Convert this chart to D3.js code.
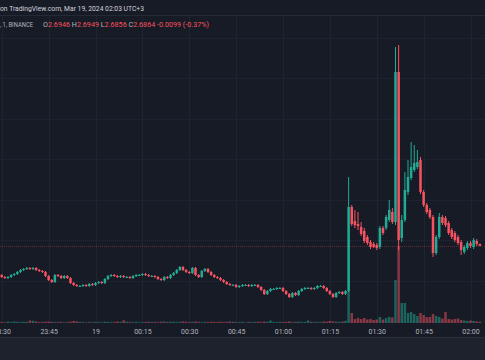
<!DOCTYPE html>
<html><head><meta charset="utf-8">
<script src="https://cdn.jsdelivr.net/npm/d3@7"></script>
<style>html,body{margin:0;padding:0;background:#171b26;overflow:hidden}svg{display:block}</style>
</head><body><svg id="c" width="485" height="360"></svg>
<script>
// ---- data (1-minute candles, first candle 23:29, Mar 18 2024) ----
const startTime = new Date(2024, 2, 18, 23, 29);
const opens = [
2.574,2.570,2.562,2.558,2.562,2.570,2.574,2.582,2.590,2.594,
2.598,2.594,2.598,2.590,2.586,2.582,2.566,2.550,2.542,2.570,
2.566,2.558,2.566,2.558,2.538,2.530,2.526,2.526,2.530,2.526,
2.534,2.530,2.538,2.542,2.538,2.554,2.566,2.570,2.566,2.562,
2.566,2.562,2.562,2.558,2.566,2.570,2.570,2.574,2.570,2.566,
2.566,2.562,2.554,2.550,2.562,2.558,2.570,2.578,2.590,2.602,
2.590,2.582,2.578,2.598,2.570,2.562,2.586,2.594,2.582,2.570,
2.562,2.558,2.550,2.542,2.534,2.530,2.530,2.522,2.526,2.530,
2.530,2.526,2.530,2.530,2.522,2.510,2.494,2.506,2.514,2.514,
2.518,2.518,2.506,2.494,2.482,2.498,2.490,2.506,2.514,2.518,
2.518,2.514,2.518,2.526,2.526,2.518,2.506,2.494,2.482,2.498,
2.502,2.494,2.506,2.842,2.786,2.774,2.762,2.746,2.722,2.702,
2.694,2.690,2.682,2.758,2.758,2.790,2.822,2.782,3.382,2.718,
2.790,2.902,2.958,2.990,3.002,3.030,2.902,2.850,2.830,2.802,
2.658,2.722,2.802,2.798,2.778,2.750,2.738,2.722,2.702,2.662,
2.678,2.698,2.682,2.706,2.6946];
const highs = [
2.578,2.574,2.566,2.566,2.574,2.578,2.586,2.594,2.598,2.602,
2.602,2.602,2.602,2.594,2.590,2.586,2.570,2.554,2.574,2.574,
2.570,2.570,2.570,2.562,2.542,2.534,2.530,2.534,2.534,2.538,
2.538,2.542,2.546,2.546,2.558,2.570,2.574,2.574,2.570,2.570,
2.570,2.566,2.566,2.570,2.574,2.574,2.578,2.578,2.574,2.570,
2.570,2.566,2.558,2.566,2.566,2.574,2.582,2.594,2.606,2.606,
2.594,2.586,2.602,2.602,2.574,2.590,2.598,2.598,2.586,2.574,
2.566,2.562,2.554,2.546,2.538,2.534,2.534,2.530,2.534,2.534,
2.534,2.534,2.534,2.534,2.526,2.514,2.510,2.518,2.518,2.522,
2.522,2.522,2.510,2.498,2.502,2.502,2.510,2.518,2.522,2.522,
2.522,2.522,2.530,2.530,2.530,2.522,2.510,2.498,2.502,2.506,
2.506,2.510,2.962,2.850,2.830,2.822,2.782,2.758,2.730,2.710,
2.702,2.698,2.766,2.766,2.810,2.870,2.838,3.482,3.490,2.810,
2.982,3.030,3.102,3.090,3.070,3.042,2.910,2.858,2.838,2.810,
2.730,2.818,2.810,2.806,2.786,2.758,2.746,2.730,2.710,2.690,
2.706,2.706,2.718,2.714,2.6949];
const lows = [
2.566,2.558,2.554,2.554,2.558,2.566,2.570,2.578,2.586,2.590,
2.590,2.590,2.586,2.582,2.578,2.562,2.546,2.538,2.538,2.562,
2.554,2.554,2.554,2.534,2.526,2.522,2.522,2.522,2.522,2.522,
2.526,2.526,2.534,2.534,2.534,2.550,2.562,2.562,2.558,2.558,
2.558,2.558,2.554,2.554,2.562,2.566,2.566,2.566,2.562,2.562,
2.558,2.550,2.546,2.546,2.554,2.554,2.566,2.574,2.586,2.586,
2.578,2.574,2.574,2.566,2.558,2.558,2.582,2.578,2.566,2.558,
2.554,2.546,2.538,2.530,2.526,2.526,2.518,2.518,2.522,2.526,
2.522,2.522,2.526,2.518,2.506,2.490,2.490,2.502,2.510,2.510,
2.514,2.502,2.490,2.478,2.478,2.486,2.486,2.502,2.510,2.514,
2.510,2.510,2.514,2.522,2.514,2.502,2.490,2.478,2.478,2.494,
2.490,2.490,2.502,2.766,2.758,2.750,2.726,2.698,2.690,2.674,
2.678,2.670,2.674,2.730,2.750,2.782,2.774,2.770,2.670,2.702,
2.782,2.890,2.950,2.982,2.994,2.894,2.842,2.814,2.794,2.642,
2.650,2.714,2.770,2.762,2.730,2.714,2.702,2.690,2.650,2.654,
2.670,2.678,2.674,2.686,2.6856];
const closes = [
2.570,2.562,2.558,2.562,2.570,2.574,2.582,2.590,2.594,2.598,
2.594,2.598,2.590,2.586,2.582,2.566,2.550,2.542,2.570,2.566,
2.558,2.566,2.558,2.538,2.530,2.526,2.526,2.530,2.526,2.534,
2.530,2.538,2.542,2.538,2.554,2.566,2.570,2.566,2.562,2.566,
2.562,2.562,2.558,2.566,2.570,2.570,2.574,2.570,2.566,2.566,
2.562,2.554,2.550,2.562,2.558,2.570,2.578,2.590,2.602,2.590,
2.582,2.578,2.598,2.570,2.562,2.586,2.594,2.582,2.570,2.562,
2.558,2.550,2.542,2.534,2.530,2.530,2.522,2.526,2.530,2.530,
2.526,2.530,2.530,2.522,2.510,2.494,2.506,2.514,2.514,2.518,
2.518,2.506,2.494,2.482,2.498,2.490,2.506,2.514,2.518,2.518,
2.514,2.518,2.526,2.526,2.518,2.506,2.494,2.482,2.498,2.502,
2.494,2.506,2.842,2.774,2.770,2.766,2.734,2.706,2.698,2.682,
2.682,2.678,2.758,2.738,2.802,2.830,2.782,3.382,2.710,2.790,
2.910,2.962,3.002,3.018,3.022,2.902,2.850,2.822,2.802,2.658,
2.722,2.802,2.778,2.770,2.738,2.722,2.710,2.698,2.670,2.682,
2.698,2.686,2.710,2.694,2.6864];
const volumes = [
8,10,6,12,9,14,10,8,12,10,
25,22,15,8,10,12,14,10,9,8,
10,6,8,12,20,15,10,8,6,9,
7,10,8,6,12,10,8,9,14,10,
27,12,9,8,10,6,8,10,12,9,
10,8,12,14,9,10,12,8,10,15,
12,8,10,14,9,7,10,8,12,10,
9,12,8,10,14,12,9,8,10,6,
9,8,10,12,9,14,11,25,10,8,
10,9,12,14,8,10,12,9,10,25,
12,8,10,9,14,12,20,16,12,10,
14,22,320,100,40,50,40,50,35,40,
30,35,60,35,50,60,55,430,770,200,
200,100,110,90,70,100,80,60,60,90,
70,60,45,110,40,35,40,45,30,25,
20,25,20,15,12];
const tickLabels = ["23:30","23:45","19","00:15","00:30","00:45","01:00","01:15","01:30","01:45","02:00"];
const legendTitle = "on TradingView.com, Mar 19, 2024 02:03 UTC+3";
const legendSymbol = ", 1, BINANCE";
const ohlcLabels = ["O","H","L","C"];
const ohlcValues = ["2.6946","2.6949","2.6856","2.6864"];
const changeText = "-0.0099 (-0.37%)";
const lastPrice = 2.6864;

// ---- build ----
const W = 485, H = 360;
const UP = "#22ab94", DN = "#f7525f";
const svg = d3.select("#c");
const times = opens.map((_, i) => d3.timeMinute.offset(startTime, i));
const candles = times.map((t, i) => ({t, o: opens[i], h: highs[i], l: lows[i], c: closes[i], v: volumes[i]}));
const tickTimes = tickLabels.map((_, i) => d3.timeMinute.offset(new Date(2024, 2, 18, 23, 30), 15 * i));

const x = d3.scaleTime().domain([new Date(2024, 2, 19, 0, 0), new Date(2024, 2, 19, 2, 0)]).range([95.5, 470.5]);
const y = d3.scaleLinear().domain([2.39, 3.67]).range([320, 0]);
const yv = d3.scaleLinear().domain([0, 1000]).range([323, 223]);
const bw = 2.5;

// backgrounds
svg.append("rect").attr("width", W).attr("height", H).attr("fill", "#171b26");
svg.append("rect").attr("y", 337).attr("width", W).attr("height", H - 337).attr("fill", "#1e222d");
svg.append("line").attr("x1", 0).attr("x2", W).attr("y1", 337.5).attr("y2", 337.5).attr("stroke", "#2a2e39");
svg.append("line").attr("x1", 0).attr("x2", W).attr("y1", 15.5).attr("y2", 15.5).attr("stroke", "#262a35");

// grid
const grid = svg.append("g");
grid.selectAll("line.v").data(tickTimes).join("line")
  .attr("x1", d => Math.round(x(d)) + 0.5).attr("x2", d => Math.round(x(d)) + 0.5)
  .attr("y1", 16).attr("y2", 323).attr("stroke", "#1f2431");
const hGrid = d3.range(0, 8).map(k => 37.5 + k * 40.5);
grid.selectAll("line.h").data(hGrid).join("line")
  .attr("x1", 0).attr("x2", W).attr("y1", d => Math.round(d) + 0.5).attr("y2", d => Math.round(d) + 0.5)
  .attr("stroke", "#1d2230");

// volume
svg.append("g").selectAll("rect").data(candles).join("rect")
  .attr("x", d => x(d.t) - bw / 2).attr("width", bw)
  .attr("y", d => yv(d.v)).attr("height", d => yv(0) - yv(d.v))
  .attr("fill", d => d.c >= d.o ? UP : DN).attr("fill-opacity", 0.5);

// last price line
svg.append("line").attr("x1", 0).attr("x2", W)
  .attr("y1", Math.round(y(lastPrice)) + 0.5).attr("y2", Math.round(y(lastPrice)) + 0.5)
  .attr("stroke", DN).attr("stroke-opacity", 0.32).attr("stroke-dasharray", "1,1");

// candles
const cg = svg.append("g");
cg.selectAll("line").data(candles).join("line")
  .attr("x1", d => x(d.t)).attr("x2", d => x(d.t))
  .attr("y1", d => y(d.h)).attr("y2", d => y(d.l))
  .attr("stroke", d => d.c >= d.o ? UP : DN).attr("stroke-width", 1);
cg.selectAll("rect").data(candles).join("rect")
  .attr("x", d => x(d.t) - bw / 2).attr("width", bw)
  .attr("y", d => y(Math.max(d.o, d.c)))
  .attr("height", d => Math.max(1, Math.abs(y(d.o) - y(d.c))))
  .attr("fill", d => d.c >= d.o ? UP : DN);

// time axis
const ax = svg.append("g").attr("transform", "translate(0,323)")
  .call(d3.axisBottom(x).tickValues(tickTimes).tickFormat((d, i) => tickLabels[i]).tickSize(0).tickPadding(6));
ax.select(".domain").remove();
ax.selectAll("text").attr("fill", "#b2b5be").attr("font-size", 7).attr("font-family", "Roboto, sans-serif");

// legend
const font = "Roboto, sans-serif";
svg.append("text").attr("x", 0).attr("y", 10.5).attr("font-size", 7.4).attr("font-family", font)
  .attr("fill", "#d1d4dc").attr("textLength", 144).attr("lengthAdjust", "spacingAndGlyphs").text(legendTitle);
svg.append("text").attr("x", 0).attr("y", 26.5).attr("font-size", 7.4).attr("font-family", font)
  .attr("fill", "#b2b5be").attr("textLength", 33).attr("lengthAdjust", "spacingAndGlyphs").text(legendSymbol);
const lt = svg.append("text").attr("x", 43).attr("y", 26.5).attr("font-size", 7.4).attr("font-family", font)
  .attr("textLength", 166).attr("lengthAdjust", "spacingAndGlyphs");
ohlcLabels.forEach((lab, i) => {
  lt.append("tspan").attr("fill", "#b2b5be").text((i ? " " : "") + lab);
  lt.append("tspan").attr("fill", DN).text(ohlcValues[i]);
});
lt.append("tspan").attr("fill", DN).text(" " + changeText);
</script></body></html>
